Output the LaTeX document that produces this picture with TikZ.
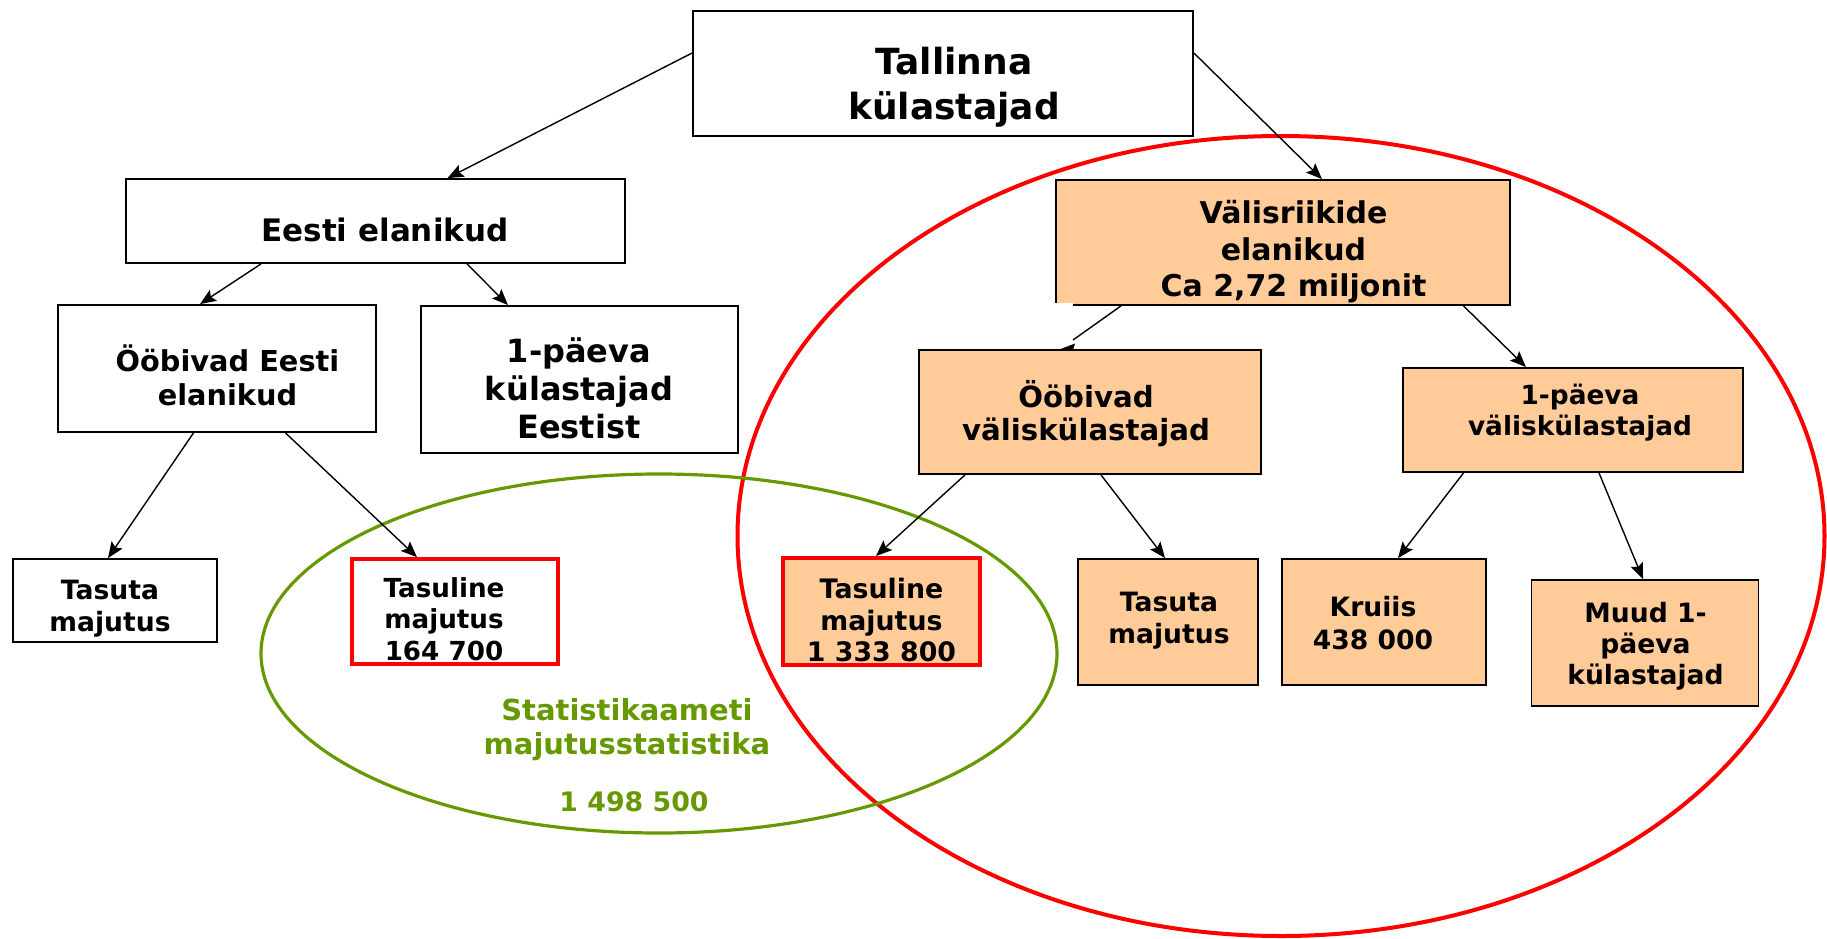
\documentclass[tikz,border=0pt]{standalone}
\usepackage{fontspec}
\setmainfont{DejaVu Sans}
\usetikzlibrary{arrows.meta,calc}
\definecolor{peach}{HTML}{FFCC99}
\definecolor{olivegr}{HTML}{669900}
\newcommand{\myfs}[2]{\fontsize{#1}{#2}\selectfont\bfseries}
\begin{document}
\begin{tikzpicture}[x=0.5pt,y=-0.5pt,
  box/.style={draw=black,line width=0.9pt,inner sep=0pt},
  obox/.style={box,fill=peach},
  rbox/.style={draw=red,inner sep=0pt},
  lbl/.style={align=center,inner sep=0pt},
  conn/.style={line width=0.7pt,-{Stealth[length=8pt,width=6.5pt,inset=1.5pt]}},
]
\useasboundingbox[fill=white] (0,0) rectangle (1827,938);

% ellipses
\draw[red,line width=2pt] (1281,536) ellipse [x radius=543.5, y radius=400];
\draw[olivegr,line width=1.6pt] (659,653.5) ellipse [x radius=398, y radius=179.5];

% boxes
\node[box,minimum width=250pt,minimum height=62.5pt] (top) at (943,73.5) {};
\node[box,minimum width=249.5pt,minimum height=42pt] (ee) at (375.5,221) {};
\node[box,minimum width=159pt,minimum height=63.5pt] (oe) at (217,368.5) {};
\node[box,minimum width=158.5pt,minimum height=73.5pt] (pe) at (579.5,379.5) {};
\node[obox,minimum width=227pt,minimum height=62.5pt] (vr) at (1283,242.5) {};
\node[obox,minimum width=171pt,minimum height=62pt] (ov) at (1090,412) {};
\node[obox,minimum width=170pt,minimum height=52pt] (pv) at (1573,420) {};
\node[box,minimum width=102pt,minimum height=41.5pt] (tl) at (115,600.5) {};
\node[rbox,line width=1.8pt,minimum width=103pt,minimum height=52.5pt] (tp1) at (455,611.5) {};
\node[rbox,fill=peach,line width=2pt,minimum width=98.5pt,minimum height=53.5pt] (tp2) at (881.5,611.5) {};
\node[obox,minimum width=90pt,minimum height=63pt] (to) at (1168,622) {};
\node[obox,minimum width=102pt,minimum height=63pt] (kr) at (1384,622) {};
\node[obox,minimum width=113.5pt,minimum height=63pt] (mu) at (1645,643) {};

% small white gap on the lower left corner of vr
\fill[white] (1053.5,302.5) rectangle (1073,307.5);

% texts
\node[lbl,font=\myfs{18}{22.5}] (toptxt) at (954,87.5) {Tallinna\\külastajad};
\node[lbl,font=\myfs{15.5}{18}] (eetxt) at (385,229.5) {Eesti elanikud};
\node[lbl,font=\myfs{14.4}{17}] (oetxt) at (227.5,375) {Ööbivad Eesti\\elanikud};
\node[lbl,font=\myfs{16}{19}] (petxt) at (579,388) {1-päeva\\külastajad\\Eestist};
\node[lbl,font=\myfs{15}{18.3}] (vrtxt) at (1293.5,252) {Välisriikide\\elanikud\\Ca 2,72 miljonit};
\node[lbl,font=\myfs{14.6}{16.5}] (ovtxt) at (1086,413.5) {Ööbivad\\väliskülastajad};
\node[lbl,font=\myfs{13.2}{15.5}] (pvtxt) at (1580,412.5) {1-päeva\\väliskülastajad};
\node[lbl,font=\myfs{13.3}{16}] (tltxt) at (110,609) {Tasuta\\majutus};
\node[lbl,font=\myfs{13.1}{15.8}] (tp1txt) at (444,619) {Tasuline\\majutus\\164 700};
\node[lbl,font=\myfs{13.4}{15.8}] (tp2txt) at (881.5,620) {Tasuline\\majutus\\1 333 800};
\node[lbl,font=\myfs{13.3}{16}] (totxt) at (1169,621) {Tasuta\\majutus};
\node[lbl,font=\myfs{13.3}{16.3}] (krtxt) at (1373,623) {Kruiis\\438 000};
\node[lbl,font=\myfs{13.3}{15.5}] (mutxt) at (1645.5,646) {Muud 1-\\päeva\\külastajad};
\node[lbl,font=\myfs{14.5}{17},text=olivegr] (sttxt) at (627,730) {Statistikaameti\\majutusstatistika};
\node[lbl,font=\myfs{13.4}{16},text=olivegr] (sumtxt) at (634,802) {1 498 500};

% connectors
\draw[conn] ($(top.west)+(0,-20.5)$) -- ($(ee.north)+(72,0)$);
\draw[conn] ($(top.east)+(0,-20.5)$) -- ($(vr.north)+(39,0)$);
\draw[conn] ($(ee.south)+(-114.5,0)$) -- ($(oe.north)+(-17,0)$);
\draw[conn] ($(ee.south)+(91.5,0)$) -- ($(pe.north)+(-71.5,0)$);
\draw[conn] ($(oe.south)+(-23.5,0)$) -- ($(tl.north)+(-7,0)$);
\draw[conn] ($(oe.south)+(68.5,0)$) -- ($(tp1.north)+(-38,0)$);
\coordinate (ovend) at (1073,340);
\draw[line width=0.7pt] ($(vr.south)+(-162,0)$) -- (ovend);
\fill[black] (1058,350) -- (1075,343.5) -- (1073,350) -- cycle;
\draw[conn] ($(vr.south)+(180.5,0)$) -- ($(pv.north)+(-47,0)$);
\draw[conn] ($(ov.south)+(-125,0)$) -- ($(tp2.north)+(-5.5,0)$);
\draw[conn] ($(ov.south)+(11,0)$) -- ($(to.north)+(-3,0)$);
\draw[conn] ($(pv.south)+(-109.5,0)$) -- ($(kr.north)+(14,0)$);
\draw[conn] ($(pv.south)+(26,0)$) -- ($(mu.north)+(-2,0)$);
\end{tikzpicture}
\end{document}
